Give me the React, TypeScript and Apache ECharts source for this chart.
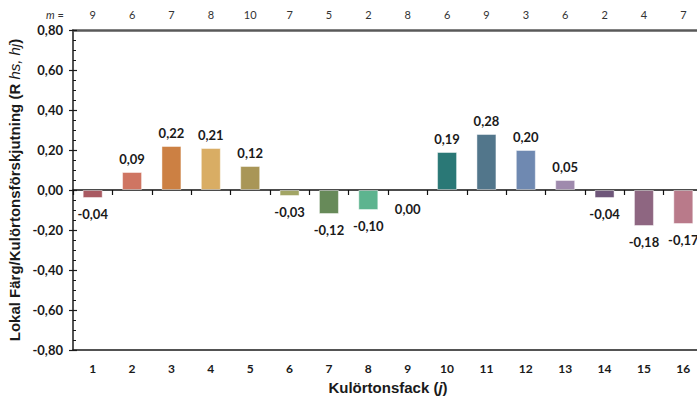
import React, { useEffect, useRef } from "react";
import * as echarts from "echarts";

const categories = ["1", "2", "3", "4", "5", "6", "7", "8", "9", "10", "11", "12", "13", "14", "15", "16"];
const values = [-0.04, 0.09, 0.22, 0.21, 0.12, -0.03, -0.12, -0.1, 0.0, 0.19, 0.28, 0.2, 0.05, -0.04, -0.18, -0.17];
const mValues = ["9", "6", "7", "8", "10", "7", "5", "2", "8", "6", "9", "3", "6", "2", "4", "7"];
const barColors = [
  "#a95a62", "#cf7562", "#cc8043", "#d9ad64", "#a99657", "#a2a565", "#678a59", "#5db48f",
  "#888888", "#2a7876", "#52768b", "#6f89b1", "#9f8aad", "#6e5679", "#8e6681", "#b97a8a",
];
const yMin = -0.8;
const yMax = 0.8;
const yInterval = 0.2;

const fmt = (v: number) => v.toFixed(2).replace(".", ",");

export default function App() {
  const ref = useRef<HTMLDivElement>(null);
  useEffect(() => {
    if (!ref.current) return;
    const chart = echarts.init(ref.current, undefined, { renderer: "svg" });
    const labelFont = "Lato, 'Open Sans', sans-serif";
    chart.setOption({
      animation: false,
      backgroundColor: "#ffffff",
      grid: { left: 73, top: 30, bottom: 51, width: 630, outerBoundsMode: "none", containLabel: false },
      graphic: [
        {
          type: "text",
          x: 55,
          y: 14,
          style: {
            text: "{i|m} =",
            rich: { i: { fontStyle: "italic", fontSize: 11, fontFamily: labelFont, fill: "#333" } },
            fontSize: 11,
            fontFamily: labelFont,
            fill: "#333",
            align: "center",
            verticalAlign: "middle",
          },
        },
      ],
      xAxis: [
        {
          type: "category",
          data: categories,
          position: "bottom",
          axisLine: { onZero: false, lineStyle: { color: "#1a1a1a", width: 1.5 } },
          axisTick: { show: false },
          axisLabel: { fontFamily: labelFont, fontWeight: "bold", fontSize: 12, color: "#1a1a1a", margin: 12 },
          name: "{b|Kulörtonsfack (}{i|j}{b|)}",
          nameLocation: "middle",
          nameGap: 30,
          nameTextStyle: {
            rich: {
              b: { fontFamily: "'Liberation Sans', Arial, sans-serif", fontWeight: "bold", fontSize: 15, color: "#1a1a1a" },
              i: { fontFamily: "'Liberation Sans', Arial, sans-serif", fontWeight: "bold", fontStyle: "italic", fontSize: 15, color: "#1a1a1a" },
            },
          },
        },
        {
          type: "category",
          data: mValues,
          position: "top",
          axisLine: { onZero: false, lineStyle: { color: "#595959", width: 2.5 } },
          axisTick: { show: false },
          axisLabel: { fontFamily: labelFont, fontSize: 11, color: "#333", margin: 10 },
        },
        {
          type: "category",
          data: categories,
          position: "bottom",
          axisLine: { onZero: true, onZeroAxisIndex: 0, lineStyle: { color: "#111", width: 1.5 } },
          axisTick: { show: true, length: 5, lineStyle: { color: "#111", width: 1.2 } },
          axisLabel: { show: false },
        },
      ],
      yAxis: [
        {
          type: "value",
          min: yMin,
          max: yMax,
          interval: yInterval,
          position: "left",
          axisLine: { show: true, onZero: false, lineStyle: { color: "#1a1a1a", width: 1.5 } },
          axisTick: { show: true, length: 4, lineStyle: { color: "#1a1a1a", width: 1.2 } },
          splitLine: { show: false },
          axisLabel: {
            formatter: (v: number) => fmt(v),
            fontFamily: labelFont,
            fontWeight: "bold",
            fontSize: 13,
            color: "#1a1a1a",
            margin: 10,
          },
          name: "{b|Lokal Färg/Kulörtonsförskjutning (R }{i|hs, hj}{b|)}",
          nameLocation: "middle",
          nameGap: 49,
          nameTextStyle: {
            rich: {
              b: { fontFamily: "'Liberation Sans', Arial, sans-serif", fontWeight: "bold", fontSize: 15, color: "#1a1a1a" },
              i: { fontFamily: "'Liberation Sans', Arial, sans-serif", fontStyle: "italic", fontSize: 15, color: "#1a1a1a" },
            },
          },
        },
        {
          type: "value",
          min: yMin,
          max: yMax,
          interval: yInterval,
          position: "left",
          axisLine: { show: false, onZero: false },
          axisTick: { show: true, inside: true, length: 4, lineStyle: { color: "#1a1a1a", width: 1.2 } },
          minorTick: { show: true, splitNumber: 4, length: 3, lineStyle: { color: "#1a1a1a", width: 1 } },
          splitLine: { show: false },
          minorSplitLine: { show: false },
          axisLabel: { show: false },
        },
      ],
      series: [
        {
          type: "bar",
          xAxisIndex: 0,
          yAxisIndex: 0,
          barWidth: 20,
          data: values.map((v, i) => ({
            value: v,
            itemStyle:
              v === 0
                ? { color: "transparent", borderWidth: 0 }
                : { color: barColors[i], borderColor: "rgba(255,255,255,0.45)", borderWidth: 1 },
            label: { position: v > 0 ? "top" : "bottom", distance: v > 0 ? 7 : v === 0 ? 12 : 9 },
          })),
          label: {
            show: true,
            formatter: (p: any) => fmt(p.value),
            fontFamily: labelFont,
            fontWeight: "bold",
            fontSize: 13,
            color: "#1a1a1a",
          },
        },
      ],
    });
    return () => chart.dispose();
  }, []);
  return <div ref={ref} style={{ position: "fixed", left: 0, top: 0, width: 697, height: 401 }} />;
}
